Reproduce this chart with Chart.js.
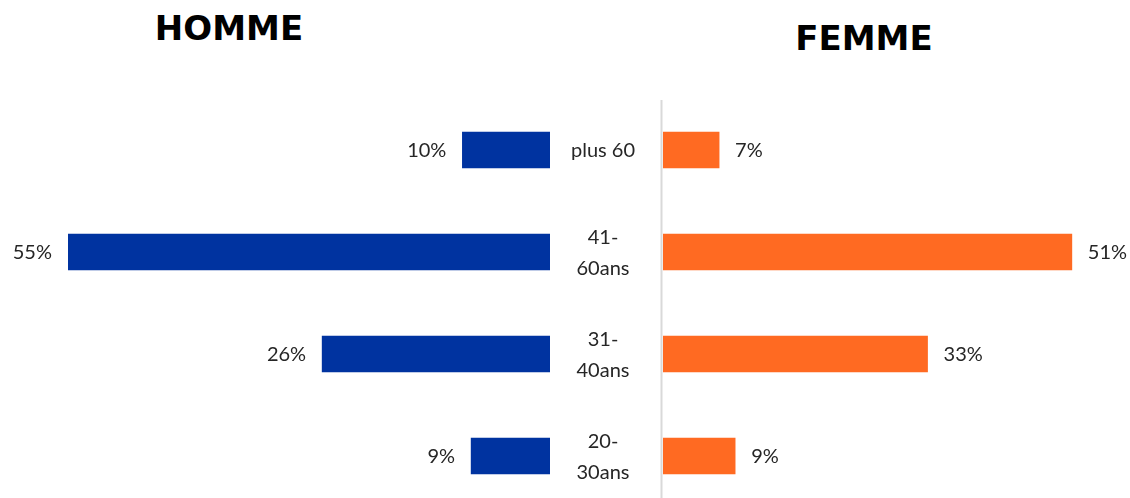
<!DOCTYPE html>
<html lang="fr">
<head>
  <meta charset="UTF-8">
  <title>Homme / Femme par âge</title>
  <script src="https://cdn.jsdelivr.net/npm/chart.js"></script>
  <style>
    body { margin: 0; width: 1130px; height: 498px; overflow: hidden; position: relative; background: #fff; font-family: Lato, sans-serif; }
    .title { position: absolute; font-family: "DejaVu Sans", sans-serif; font-weight: bold; font-size: 34px; color: #000; transform: translate(-50%, -50%); white-space: nowrap; }
    canvas { position: absolute; top: 0; }
  </style>
</head>
<body>
  <div class="title" style="left:229px; top:28px;">HOMME</div>
  <div class="title" style="left:864px; top:38px;">FEMME</div>
  <canvas id="hommeChart" width="660" height="520" style="left:0;"></canvas>
  <canvas id="femmeChart" width="560" height="520" style="left:600px;"></canvas>
  <script>
    const categories = [['plus 60'], ['41-', '60ans'], ['31-', '40ans'], ['20-', '30ans']];
    const homme = [10, 55, 26, 9];
    const femme = [7, 51, 33, 9];

    const textColor = '#262626';
    const labelFont = '20px Lato, sans-serif';

    // valeurs à côté des barres
    const valueLabels = {
      id: 'valueLabels',
      afterDatasetsDraw(chart, args, opts) {
        const ctx = chart.ctx;
        const meta = chart.getDatasetMeta(0);
        ctx.save();
        ctx.font = labelFont;
        ctx.fillStyle = textColor;
        ctx.textBaseline = 'middle';
        meta.data.forEach((bar, i) => {
          const txt = chart.data.datasets[0].data[i] + '%';
          if (opts.side === 'left') {
            ctx.textAlign = 'right';
            ctx.fillText(txt, bar.x - 16, bar.y + 1);
          } else {
            ctx.textAlign = 'left';
            ctx.fillText(txt, bar.x + 16, bar.y + 1);
          }
        });
        if (opts.side === 'left') {
          // libellés des tranches d'âge au milieu
          ctx.textAlign = 'center';
          meta.data.forEach((bar, i) => {
            const lines = categories[i];
            const lh = 31;
            const y0 = bar.y + 1 - (lines.length - 1) * lh / 2;
            lines.forEach((l, j) => ctx.fillText(l, 603, y0 + j * lh));
          });
        } else {
          ctx.strokeStyle = '#d9d9d9';
          ctx.lineWidth = 2;
          ctx.beginPath();
          ctx.moveTo(chart.chartArea.left - 1.5, 100);
          ctx.lineTo(chart.chartArea.left - 1.5, 520);
          ctx.stroke();
        }
        ctx.restore();
      }
    };

    function renderChart(canvasId, data, color, side) {
      const left = side === 'left';
      new Chart(document.getElementById(canvasId), {
        type: 'bar',
        data: {
          labels: categories.map(c => c.join(' ')),
          datasets: [{ data: data, backgroundColor: color, barThickness: 36 }]
        },
        options: {
          indexAxis: 'y',
          responsive: false,
          animation: false,
          layout: { padding: left ? { left: 68, right: 110, top: 99, bottom: 13 } : { left: 63, right: 16, top: 99, bottom: 13 } },
          scales: {
            x: { display: false, min: 0, max: left ? 55 : 60, reverse: left },
            y: { display: false }
          },
          plugins: {
            legend: { display: false },
            tooltip: { enabled: false },
            valueLabels: { side: side }
          }
        },
        plugins: [valueLabels]
      });
    }

    renderChart('hommeChart', homme, '#0033A0', 'left');
    renderChart('femmeChart', femme, '#FF6A22', 'right');
  </script>
</body>
</html>
